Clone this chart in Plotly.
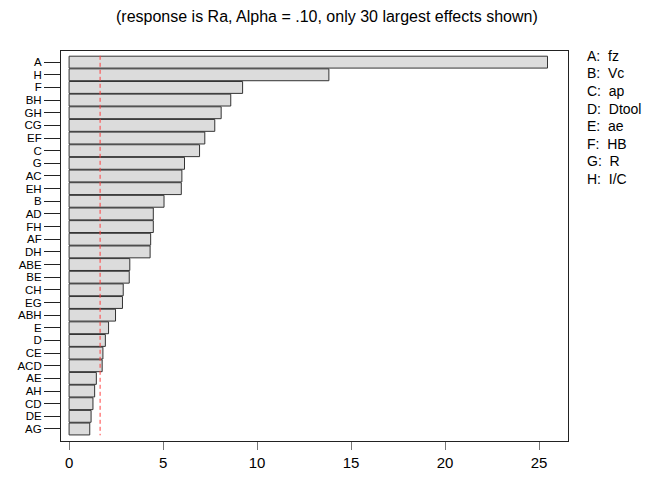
import plotly.graph_objects as go

# Standardized effects (30 largest), ordered from largest to smallest
terms = ["A", "H", "F", "BH", "GH", "CG", "EF", "C", "G", "AC",
         "EH", "B", "AD", "FH", "AF", "DH", "ABE", "BE", "CH", "EG",
         "ABH", "E", "D", "CE", "ACD", "AE", "AH", "CD", "DE", "AG"]
effects = [25.45, 13.82, 9.23, 8.60, 8.09, 7.75, 7.22, 6.94, 6.14, 6.00,
           5.97, 5.05, 4.48, 4.48, 4.34, 4.31, 3.23, 3.20, 2.88, 2.84,
           2.47, 2.10, 1.93, 1.80, 1.76, 1.45, 1.36, 1.27, 1.17, 1.10]

# Critical value of the standardized effect (Alpha = .10)
critical = 1.65

factor_codes = ["A", "B", "C", "D", "E", "F", "G", "H"]
factor_names = ["fz", "Vc", "ap", "Dtool", "ae", "HB", "R", "I/C"]

x_ticks = [0, 5, 10, 15, 20, 25]

FONT = "Liberation Sans, Arial, sans-serif"

fig = go.Figure()
fig.add_trace(go.Bar(
    x=effects,
    y=terms,
    orientation="h",
    marker=dict(color="#dcdcdc", line=dict(color="#333333", width=1)),
    width=0.94,
    showlegend=False,
    hoverinfo="x+y",
))

# Reference line at the critical value
fig.add_shape(type="line", xref="x", yref="y",
              x0=critical, x1=critical, y0=-0.5, y1=len(terms) - 0.5,
              line=dict(color="#ff4040", width=1, dash="4px,3px"))

W, H = 649, 483
L, R, T, B = 61, 81, 51, 33
plot_w = W - L - R
plot_h = H - T - B

# Factor key on the right
for i, (code, name) in enumerate(zip(factor_codes, factor_names)):
    ypx = 56 + i * 18
    fig.add_annotation(
        xref="paper", yref="paper",
        x=(585 - L) / plot_w, y=(H - B - ypx) / plot_h,
        xanchor="left", yanchor="middle", showarrow=False,
        text=f"{code}:  {name}",
        font=dict(family=FONT, size=14, color="black"),
    )

fig.add_annotation(
    xref="paper", yref="paper",
    x=(327 - L) / plot_w, y=(H - B - 16) / plot_h,
    xanchor="center", yanchor="middle", showarrow=False,
    text="(response is Ra, Alpha = .10, only 30 largest effects shown)",
    font=dict(family=FONT, size=16, color="black"),
)

fig.update_layout(
    width=W, height=H,
    margin=dict(l=L, r=R, t=T, b=B, pad=0),
    paper_bgcolor="white", plot_bgcolor="white",
    font=dict(family=FONT, size=15, color="black"),
    bargap=0.06,
)
fig.update_xaxes(
    range=[-0.43, 26.54],
    tickvals=x_ticks,
    ticks="outside", ticklen=8, tickcolor="#777777", tickwidth=1,
    showgrid=False, zeroline=False,
    showline=True, linecolor="#222222", linewidth=1, mirror=True,
    tickfont=dict(family=FONT, size=15, color="black"),
)
fig.update_yaxes(
    type="category",
    tickmode="array", tickvals=terms, ticktext=terms,
    range=[len(terms) - 0.05, -0.88],
    ticks="outside", ticklen=16, tickcolor="#222222", tickwidth=1,
    showgrid=False, zeroline=False,
    showline=True, linecolor="#222222", linewidth=1, mirror=True,
    tickfont=dict(family=FONT, size=11.5, color="black"),
)

fig.write_html("out.html")
